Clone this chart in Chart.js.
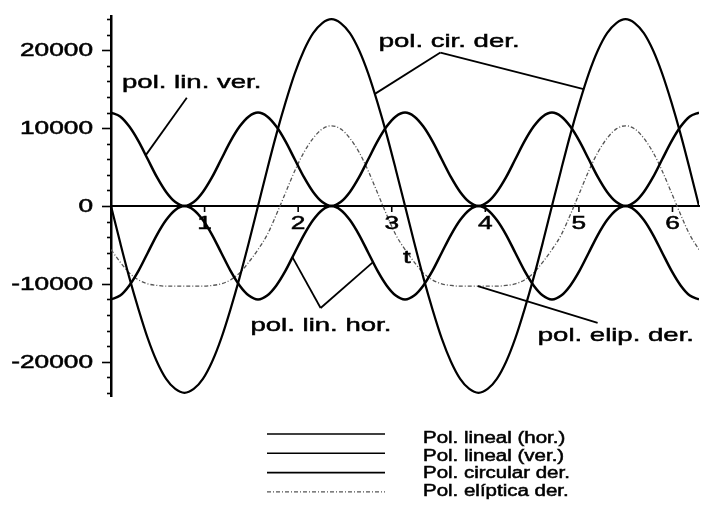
<!DOCTYPE html>
<html>
<head>
<meta charset="utf-8">
<title>Polarización</title>
<script src="https://cdn.jsdelivr.net/npm/chart.js@4/dist/chart.umd.min.js"></script>
<style>
  html, body { margin: 0; padding: 0; background: #fff; }
  canvas { display: block; }
</style>
</head>
<body>
<canvas id="plot" width="701" height="511"></canvas>
<script>
// time samples, 0 .. 2*pi
const tValues = [
  0, 0.098, 0.196, 0.295, 0.393, 0.491, 0.589, 0.687, 0.785, 0.884, 0.982, 1.080, 1.178,
  1.276, 1.374, 1.473, 1.571, 1.669, 1.767, 1.865, 1.963, 2.062, 2.160, 2.258, 2.356,
  2.454, 2.553, 2.651, 2.749, 2.847, 2.945, 3.043, 3.142, 3.240, 3.338, 3.436, 3.534,
  3.633, 3.731, 3.829, 3.927, 4.025, 4.123, 4.222, 4.320, 4.418, 4.516, 4.614, 4.712,
  4.811, 4.909, 5.007, 5.105, 5.203, 5.301, 5.400, 5.498, 5.596, 5.694, 5.792, 5.890,
  5.989, 6.087, 6.185, 6.283
];

const linHor = [
  -12000, -11500, -10200, -8300, -6000, -3700, -1800, -500, 0, -500, -1800, -3700, -6000, -8300, -10200, -11500,
  -12000, -11500, -10200, -8300, -6000, -3700, -1800, -500, 0, -500, -1800, -3700, -6000, -8300, -10200, -11500,
  -12000, -11500, -10200, -8300, -6000, -3700, -1800, -500, 0, -500, -1800, -3700, -6000, -8300, -10200, -11500,
  -12000, -11500, -10200, -8300, -6000, -3700, -1800, -500, 0, -500, -1800, -3700, -6000, -8300, -10200, -11500,
  -12000
];

const linVer = [
  12000, 11500, 10200, 8300, 6000, 3700, 1800, 500, 0, 500, 1800, 3700, 6000, 8300, 10200, 11500,
  12000, 11500, 10200, 8300, 6000, 3700, 1800, 500, 0, 500, 1800, 3700, 6000, 8300, 10200, 11500,
  12000, 11500, 10200, 8300, 6000, 3700, 1800, 500, 0, 500, 1800, 3700, 6000, 8300, 10200, 11500,
  12000, 11500, 10200, 8300, 6000, 3700, 1800, 500, 0, 500, 1800, 3700, 6000, 8300, 10200, 11500,
  12000
];

const cirDer = [
  0, -4700, -9200, -13300, -17000, -20000, -22200, -23500, -24000, -23500, -22200, -20000, -17000, -13300, -9200, -4700,
  0, 4700, 9200, 13300, 17000, 20000, 22200, 23500, 24000, 23500, 22200, 20000, 17000, 13300, 9200, 4700,
  0, -4700, -9200, -13300, -17000, -20000, -22200, -23500, -24000, -23500, -22200, -20000, -17000, -13300, -9200, -4700,
  0, 4700, 9200, 13300, 17000, 20000, 22200, 23500, 24000, 23500, 22200, 20000, 17000, 13300, 9200, 4700,
  0
];

const elipDer = [
  -5600, -7200, -8600, -9500, -10000, -10200, -10300, -10300, -10300, -10300, -10300, -10200, -10000, -9500, -8600, -7200,
  -5600, -3700, -1100, 1700, 4500, 6900, 8700, 9900, 10300, 9900, 8700, 6900, 4500, 1700, -1100, -3700,
  -5600, -7200, -8600, -9500, -10000, -10200, -10300, -10300, -10300, -10300, -10300, -10200, -10000, -9500, -8600, -7200,
  -5600, -3700, -1100, 1700, 4500, 6900, 8700, 9900, 10300, 9900, 8700, 6900, 4500, 1700, -1100, -3700,
  -5600
];

const legendLabels = ['Pol. lineal (hor.)', 'Pol. lineal (ver.)', 'Pol. circular der.', 'Pol. elíptica der.'];
const xTickLabels = [1, 2, 3, 4, 5, 6];
const yTickLabels = [20000, 10000, 0, -10000, -20000];
const yMinorStep = 2000;

// callout texts with leader lines, placed in (t, value) units
const callouts = [
  { text: 'pol. lin. ver.', at: [0.118, 15100], from: [0.81, 13900], to: [[0.37, 6500]] },
  { text: 'pol. cir. der.', at: [2.86, 20400], from: [3.52, 19700], to: [[2.82, 14400], [5.05, 15000]] },
  { text: 'pol. lin. hor.', at: [1.49, -16100], from: [2.24, -13100], to: [[1.94, -6600], [2.80, -7200]] },
  { text: 'pol. elip. der.', at: [4.56, -17400], from: [5.20, -15000], to: [[3.92, -10300]] },
  { text: 't', at: [3.12, -7300], from: null, to: [] }
];

const FONT = '"Liberation Sans", Arial, sans-serif';

function toPoints(values) {
  return tValues.map((t, i) => ({ x: t, y: values[i] }));
}

// wide, slightly heavy text like the old plotter font
function wideText(ctx, str, x, y, size, stretch, align, baseline) {
  ctx.save();
  ctx.font = size + 'px ' + FONT;
  ctx.textBaseline = baseline || 'alphabetic';
  ctx.textAlign = 'left';
  const w = ctx.measureText(str).width * stretch;
  let left = x;
  if (align === 'right') left = x - w;
  else if (align === 'center') left = x - w / 2;
  ctx.translate(left, y);
  ctx.scale(stretch, 1);
  ctx.fillText(str, 0, 0);
  ctx.lineWidth = 0.5;
  ctx.strokeText(str, 0, 0);
  ctx.restore();
}

const overlay = {
  id: 'overlay',
  afterDraw(chart) {
    const ctx = chart.ctx;
    const xs = chart.scales.x;
    const ys = chart.scales.y;
    const area = chart.chartArea;
    const axisY = ys.getPixelForValue(0);

    ctx.save();
    ctx.strokeStyle = '#000';
    ctx.fillStyle = '#000';
    ctx.lineWidth = 1.6;

    // y tick marks: long every 10000, short every 2000
    const first = Math.ceil(ys.min / yMinorStep) * yMinorStep;
    for (let v = first; v <= ys.max; v += yMinorStep) {
      const py = Math.round(ys.getPixelForValue(v)) + 0.5;
      const len = v % 10000 === 0 ? 9 : 4;
      ctx.beginPath();
      ctx.moveTo(area.left - len, py);
      ctx.lineTo(area.left, py);
      ctx.stroke();
    }
    yTickLabels.forEach(v => {
      wideText(ctx, String(v), area.left - 18, ys.getPixelForValue(v) + 1, 17.5, 1.5, 'right', 'middle');
    });

    // x tick marks and labels under the zero line
    xTickLabels.forEach(v => {
      const px = xs.getPixelForValue(v);
      ctx.beginPath();
      ctx.moveTo(px, axisY);
      ctx.lineTo(px, axisY + 6);
      ctx.stroke();
      wideText(ctx, String(v), px, axisY + 9, 17.5, 1.5, 'center', 'top');
    });

    // callouts
    ctx.lineWidth = 1.8;
    callouts.forEach(c => {
      wideText(ctx, c.text, xs.getPixelForValue(c.at[0]), ys.getPixelForValue(c.at[1]), 19, 1.45, 'left');
      if (!c.from) return;
      const fx = xs.getPixelForValue(c.from[0]);
      const fy = ys.getPixelForValue(c.from[1]);
      c.to.forEach(p => {
        ctx.beginPath();
        ctx.moveTo(fx, fy);
        ctx.lineTo(xs.getPixelForValue(p[0]), ys.getPixelForValue(p[1]));
        ctx.stroke();
      });
    });

    // legend below the plot
    chart.data.datasets.forEach((ds, i) => {
      const ly = 434 + i * 19.3;
      ctx.save();
      ctx.strokeStyle = ds.borderColor;
      ctx.lineWidth = ds.borderDash.length ? 1.2 : 1.6;
      ctx.setLineDash(ds.borderDash);
      ctx.beginPath();
      ctx.moveTo(267, ly);
      ctx.lineTo(385, ly);
      ctx.stroke();
      ctx.restore();
      wideText(ctx, legendLabels[i], 423, 443 + i * 17.6, 16, 1.28, 'left');
    });

    ctx.restore();
  }
};

const lineStyle = {
  pointRadius: 0,
  fill: false,
  cubicInterpolationMode: 'monotone'
};

new Chart(document.getElementById('plot'), {
  type: 'line',
  data: {
    datasets: [
      { ...lineStyle, label: legendLabels[0], data: toPoints(linHor), borderColor: '#000', borderWidth: 2.5, borderDash: [] },
      { ...lineStyle, label: legendLabels[1], data: toPoints(linVer), borderColor: '#000', borderWidth: 2.5, borderDash: [] },
      { ...lineStyle, label: legendLabels[2], data: toPoints(cirDer), borderColor: '#000', borderWidth: 2.2, borderDash: [] },
      { ...lineStyle, label: legendLabels[3], data: toPoints(elipDer), borderColor: '#555', borderWidth: 1.3, borderDash: [4, 2, 1, 2] }
    ]
  },
  options: {
    responsive: false,
    animation: false,
    events: [],
    layout: { padding: { left: 111, right: 2, top: 16, bottom: 115 } },
    plugins: {
      legend: { display: false },
      tooltip: { enabled: false }
    },
    scales: {
      x: {
        type: 'linear',
        min: 0,
        max: 6.2832,
        position: { y: 0 },
        ticks: { display: false, stepSize: 1 },
        grid: { drawOnChartArea: false, drawTicks: false },
        border: { color: '#000', width: 2 }
      },
      y: {
        min: -24400,
        max: 24400,
        ticks: { display: false },
        grid: { drawOnChartArea: false, drawTicks: false },
        border: { color: '#000', width: 2.5 }
      }
    }
  },
  plugins: [overlay]
});
</script>
</body>
</html>
